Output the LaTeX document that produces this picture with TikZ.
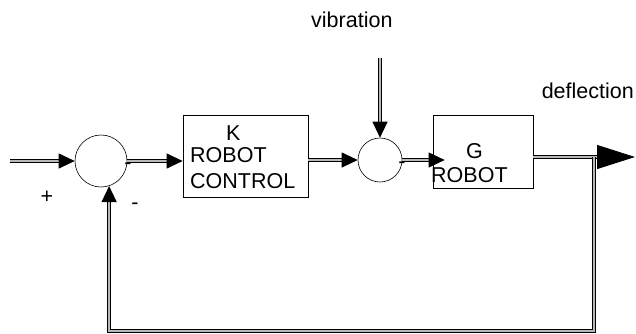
\documentclass[tikz,border=0pt]{standalone}
\usepackage{fontspec}
\setmainfont{Liberation Sans}
\usetikzlibrary{arrows.meta}
\begin{document}
\begin{tikzpicture}[x=1pt,y=-1pt,
  sig/.style={draw=black, line width=1pt, double=gray!55, double distance=1.4pt},
  tip/.style={-{Triangle[length=16pt,width=15pt]}},
  bigtip/.style={-{Triangle[length=38pt,width=24pt]}},
  sum/.style={circle, draw, line width=0.6pt, inner sep=0pt},
  blk/.style={draw, line width=0.7pt, inner sep=0pt},
  lbl/.style={font=\fontsize{21.5}{26}\selectfont, inner sep=0pt},
]
\useasboundingbox (0,0) rectangle (636,333);
\clip (0,0) rectangle (636,333);

% summing junctions and blocks
\node[sum, minimum size=52pt] (c1) at (101,161) {};
\node[sum, minimum size=44pt] (c2) at (380,160) {};
\node[blk, minimum width=125pt, minimum height=82pt] (K) at (245.5,156) {};
\node[blk, minimum width=100pt, minimum height=73pt] (G) at (483,151.5) {};

% block texts
\node[lbl, anchor=base west] (kt) at (226,140) {K};
\node[lbl, anchor=base west] (kr) at (190,162) {ROBOT};
\node[lbl, anchor=base west] (kc) at (190,188) {CONTROL};
\node[lbl, anchor=base west] (gt) at (466,158) {G};
\node[lbl, anchor=base west] (gr) at (431,182) {ROBOT};

% signal labels
\node[lbl, anchor=base west] (vl) at (311,27) {vibration};
\node[lbl, anchor=base east] (dl) at (634,98) {deflection};
\node[lbl] (p1) at (47,197) {+};
\node[lbl] (m1) at (128,166) {-};
\node[lbl] (m2) at (135,206) {-};
\node[lbl] (m3) at (402,165) {-};

% free ends
\coordinate (in) at (10,161);
\coordinate (vib) at (379,58);
\coordinate (o) at (594,157);
\coordinate (tipend) at (635,157);
\coordinate (bl) at (0,331);

% forward path
\draw[sig, tip] (in) -- (c1);
\draw[sig, tip] (c1.east) -- (c1.east -| K.west);
\draw[sig, tip] (K.east |- c2.west) -- (c2.west);
\draw[sig, tip] (c2.north |- vib) -- (c2.north);
\draw[sig, tip, shorten >=-12pt] (c2.east) -- (c2.east -| G.west);
\draw[sig, bigtip] (G.east |- o) -- (tipend);

% feedback loop
\draw[sig, tip] (o) -- (o |- bl) -- (c1.-72 |- bl) -- (c1.-72);
\end{tikzpicture}
\end{document}
